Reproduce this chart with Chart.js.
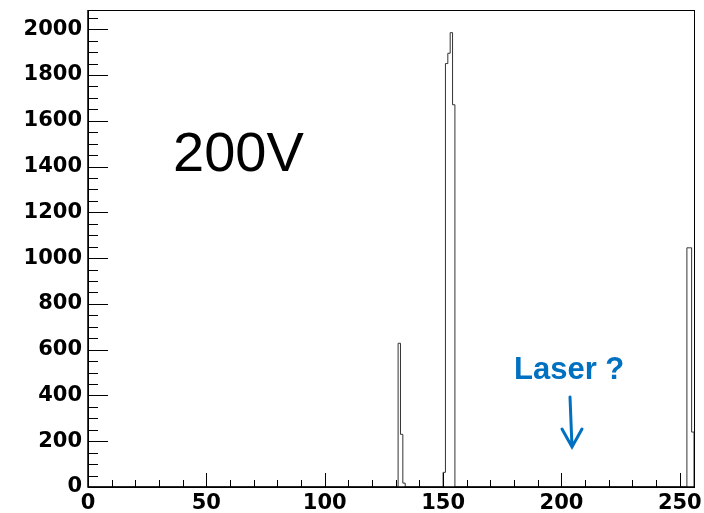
<!DOCTYPE html>
<html>
<head>
<meta charset="utf-8">
<script src="https://cdn.jsdelivr.net/npm/chart.js@4/dist/chart.umd.min.js"></script>
<style>
  html, body { margin: 0; padding: 0; background: #fff; }
  #wrap { position: relative; width: 704px; height: 513px; }
</style>
</head>
<body>
<div id="wrap"><canvas id="hist"></canvas></div>
<script>
// histogram data (non-empty bins only, bin width 1)
const binStarts = [131, 132, 133, 150, 151, 152, 153, 154, 253, 254, 255];
const binCounts = [628, 230, 17, 64, 1850, 1895, 1985, 1670, 1045, 1045, 240];

const xRange = [0, 256];
const yRange = [0, 2084];
const xTickValues = [0, 50, 100, 150, 200, 250];
const yTickValues = [0, 200, 400, 600, 800, 1000, 1200, 1400, 1600, 1800, 2000];

const labelText = "200V";
const noteText = "Laser ?";

const tickFont = { family: "'DejaVu Sans', sans-serif", size: 21, weight: "bold" };

// step outline: a point at each bin's left edge, 0 after each run of bins
function histPoints() {
  const pts = [{ x: xRange[0], y: 0 }];
  for (let i = 0; i < binStarts.length; i++) {
    const b = binStarts[i];
    pts.push({ x: b, y: binCounts[i] });
    const next = binStarts[i + 1];
    if (next !== b + 1) pts.push({ x: b + 1, y: 0 });
  }
  if (pts[pts.length - 1].x < xRange[1]) pts.push({ x: xRange[1], y: 0 });
  return pts;
}

// frame + inward ticks, ROOT style
const frameTicks = {
  id: "frameTicks",
  afterDatasetsDraw(chart) {
    const { ctx, chartArea: a, scales } = chart;
    const xs = scales.x, ys = scales.y;
    ctx.save();
    ctx.strokeStyle = "#000";
    ctx.lineWidth = 1;
    ctx.strokeRect(a.left + 0.5, a.top + 0.5, a.right - a.left, a.bottom - a.top);
    ctx.lineWidth = 1.5;
    ctx.beginPath();
    ctx.moveTo(a.left, a.top); ctx.lineTo(a.left, a.bottom); ctx.lineTo(a.right, a.bottom);
    ctx.stroke();
    ctx.lineWidth = 1;
    ctx.beginPath();
    for (let v = xRange[0]; v <= xRange[1]; v += 10) {
      const px = Math.round(xs.getPixelForValue(v)) + 0.5;
      const len = v % 50 === 0 ? 14 : 7;
      ctx.moveTo(px, a.bottom); ctx.lineTo(px, a.bottom - len);
    }
    for (let v = yRange[0]; v <= yRange[1]; v += 50) {
      const py = Math.round(ys.getPixelForValue(v)) + 0.5;
      const len = v % 200 === 0 ? 20 : 10;
      ctx.moveTo(a.left, py); ctx.lineTo(a.left + len, py);
    }
    ctx.stroke();

    // annotations
    ctx.fillStyle = "#000";
    ctx.font = "56px 'Liberation Sans', Arial, sans-serif";
    ctx.textBaseline = "alphabetic";
    ctx.fillText(labelText, 173, 171);

    ctx.fillStyle = "#0070C0";
    ctx.font = "bold 31px 'Liberation Sans', Arial, sans-serif";
    ctx.fillText(noteText, 514, 379);

    ctx.strokeStyle = "#0070C0";
    ctx.lineWidth = 3;
    ctx.lineCap = "round";
    ctx.beginPath();
    ctx.moveTo(570, 397); ctx.lineTo(572, 447);
    ctx.moveTo(562, 429); ctx.lineTo(572, 447); ctx.lineTo(582, 429);
    ctx.stroke();
    ctx.restore();
  },
};

new Chart(document.getElementById("hist"), {
  type: "line",
  data: {
    datasets: [{
      data: histPoints(),
      stepped: "before",
      borderColor: "#333",
      borderWidth: 1,
      pointRadius: 0,
      fill: false,
      tension: 0,
    }],
  },
  options: {
    responsive: true,
    maintainAspectRatio: false,
    animation: false,
    layout: { padding: { top: 10, right: 10, left: 0, bottom: 0 } },
    plugins: { legend: { display: false }, tooltip: { enabled: false } },
    scales: {
      x: {
        type: "linear",
        min: xRange[0],
        max: xRange[1],
        grid: { display: false, drawTicks: false },
        border: { display: false },
        afterBuildTicks: (s) => { s.ticks = xTickValues.map((v) => ({ value: v })); },
        afterFit: (s) => { s.height = 26; s.paddingLeft = 0; s.paddingRight = 0; },
        ticks: {
          color: "#000", font: tickFont, padding: 4, maxRotation: 0, autoSkip: false,
          callback: (v) => String(v),
        },
      },
      y: {
        min: yRange[0],
        max: yRange[1],
        grid: { display: false, drawTicks: false },
        border: { display: false },
        afterBuildTicks: (s) => { s.ticks = yTickValues.map((v) => ({ value: v })); },
        afterFit: (s) => { s.width = 88; s.paddingTop = 0; s.paddingBottom = 0; },
        ticks: {
          color: "#000", font: tickFont, padding: 6, autoSkip: false,
          callback: (v) => String(v),
        },
      },
    },
  },
  plugins: [frameTicks],
});
</script>
</body>
</html>
